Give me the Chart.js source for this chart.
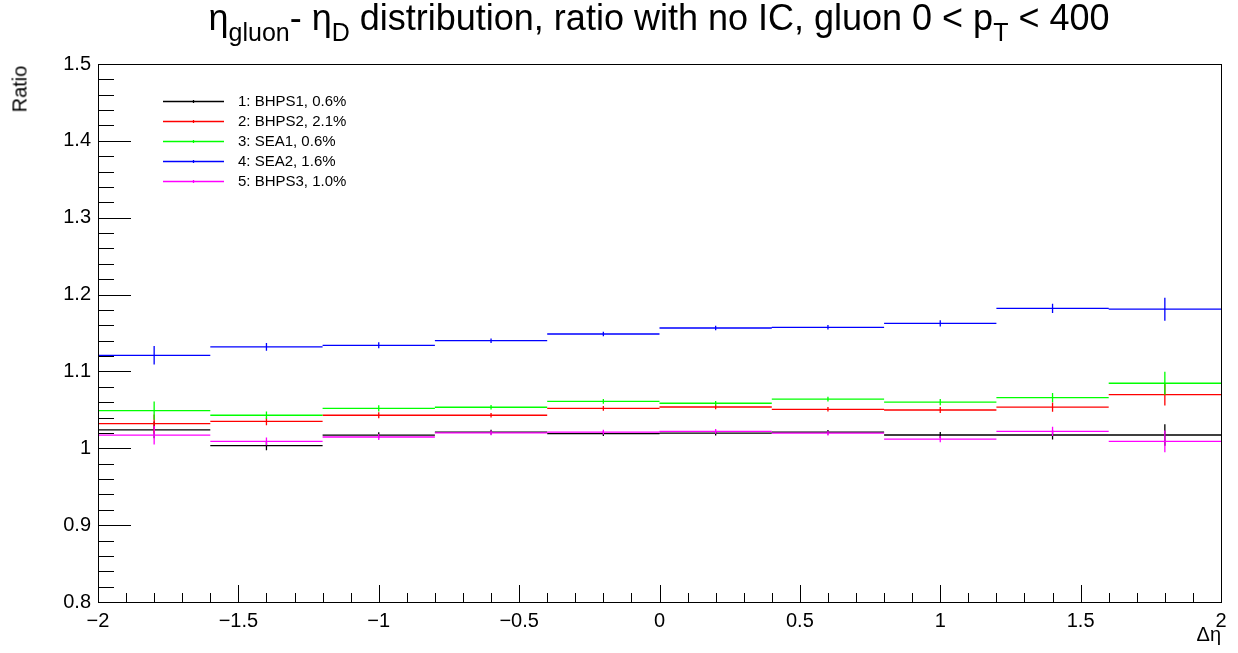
<!DOCTYPE html>
<html>
<head>
<meta charset="utf-8">
<script src="https://cdn.jsdelivr.net/npm/chart.js@4.4.0/dist/chart.umd.min.js"></script>
<style>
  html, body { margin: 0; padding: 0; background: #fff; }
  #wrap { position: relative; width: 1238px; height: 653px; font-family: "Liberation Sans", Arial, sans-serif; color: #000; }
  canvas { position: absolute; left: 0; top: 0; }
  #title { position: absolute; left: 659px; top: -3px; transform: translateX(-50%); font-size: 36px; white-space: nowrap; }
  #title sub { font-size: 25px; vertical-align: -0.45em; }
  #ylab { position: absolute; left: 20px; top: 89px; transform: translate(-50%, -50%) rotate(-90deg); font-size: 20px; white-space: nowrap; }
  #xlab { position: absolute; right: 17px; top: 623px; font-size: 20px; }
</style>
</head>
<body>
<div id="wrap">
  <canvas id="chart" width="1238" height="653"></canvas>
  <div id="title">η<sub>gluon</sub>- η<sub>D</sub> distribution, ratio with no IC, gluon 0 &lt; p<sub>T</sub> &lt; 400</div>
  <div id="ylab">Ratio</div>
  <div id="xlab">Δη</div>
</div>
<script>
// --- Data ---
const binEdges = [-2, -1.6, -1.2, -0.8, -0.4, 0, 0.4, 0.8, 1.2, 1.6, 2];

const seriesNames = ['1: BHPS1, 0.6%', '2: BHPS2, 2.1%', '3: SEA1, 0.6%', '4: SEA2, 1.6%', '5: BHPS3, 1.0%'];
const seriesColors = ['#000000', '#ff0000', '#00ff00', '#0000ff', '#ff00ff'];

const bhps1 = [1.024, 1.0035, 1.017, 1.021, 1.019, 1.0197, 1.0209, 1.0173, 1.0173, 1.0173];
const bhps2 = [1.032, 1.035, 1.043, 1.043, 1.052, 1.0537, 1.0507, 1.0498, 1.0536, 1.0698];
const sea1  = [1.049, 1.043, 1.052, 1.0534, 1.0611, 1.0586, 1.064, 1.060, 1.066, 1.0846];
const sea2  = [1.121, 1.132, 1.134, 1.140, 1.1487, 1.1565, 1.1574, 1.1626, 1.182, 1.181];
const bhps3 = [1.017, 1.0091, 1.0147, 1.020, 1.021, 1.022, 1.0196, 1.012, 1.0221, 1.009];

const bhps1Err = [0.011, 0.006, 0.004, 0.003, 0.003, 0.003, 0.003, 0.004, 0.006, 0.014];
const bhps2Err = [0.012, 0.005, 0.004, 0.003, 0.003, 0.003, 0.003, 0.004, 0.006, 0.014];
const sea1Err  = [0.012, 0.005, 0.004, 0.003, 0.003, 0.003, 0.003, 0.004, 0.006, 0.015];
const sea2Err  = [0.012, 0.005, 0.004, 0.003, 0.003, 0.003, 0.003, 0.004, 0.006, 0.015];
const bhps3Err = [0.012, 0.005, 0.004, 0.003, 0.003, 0.003, 0.003, 0.004, 0.006, 0.014];

const xMajorTicks = [-2, -1.5, -1, -0.5, 0, 0.5, 1, 1.5, 2];
const yMajorTicks = [0.8, 0.9, 1.0, 1.1, 1.2, 1.3, 1.4, 1.5];

const allValues = [bhps1, bhps2, sea1, sea2, bhps3];
const allErrors = [bhps1Err, bhps2Err, sea1Err, sea2Err, bhps3Err];

// --- Build datasets: horizontal bin segments + vertical error bars ---
function segments(vals) {
  const pts = [];
  vals.forEach((v, i) => {
    pts.push({ x: binEdges[i], y: v }, { x: binEdges[i + 1], y: v }, { x: binEdges[i + 1], y: null });
  });
  return pts;
}
function errorBars(vals, errs) {
  const pts = [];
  vals.forEach((v, i) => {
    const c = (binEdges[i] + binEdges[i + 1]) / 2;
    pts.push({ x: c, y: v - errs[i] }, { x: c, y: v + errs[i] }, { x: c, y: null });
  });
  return pts;
}

const datasets = [];
allValues.forEach((vals, i) => {
  const common = {
    borderColor: seriesColors[i],
    borderWidth: 1.3,
    pointRadius: 0,
    tension: 0,
    spanGaps: false,
    fill: false,
    order: 10 - i
  };
  datasets.push(Object.assign({ label: seriesNames[i], data: segments(vals) }, common));
  datasets.push(Object.assign({ label: seriesNames[i] + ' err', data: errorBars(vals, allErrors[i]) }, common));
});

// --- Frame, ROOT style inward ticks, legend box ---
const rootFrame = {
  id: 'rootFrame',
  afterDraw(chart) {
    const { ctx, chartArea: a, scales } = chart;
    const xs = scales.x, ys = scales.y;
    ctx.save();
    ctx.strokeStyle = '#000';
    ctx.lineWidth = 1;
    ctx.strokeRect(Math.round(a.left) + 0.5, Math.round(a.top) + 0.5, Math.round(a.right - a.left), Math.round(a.bottom - a.top));
    ctx.beginPath();
    // y ticks: major every 0.1, minor every 0.02
    for (let k = 0; k <= 35; k++) {
      const v = 0.8 + k * 0.02;
      const py = Math.round(ys.getPixelForValue(v)) + 0.5;
      const len = (k % 5 === 0) ? 33 : 16;
      ctx.moveTo(a.left, py);
      ctx.lineTo(a.left + len, py);
    }
    // x ticks: major every 0.5, minor every 0.1
    for (let k = 0; k <= 40; k++) {
      const v = -2 + k * 0.1;
      const px = Math.round(xs.getPixelForValue(v)) + 0.5;
      const len = (k % 5 === 0) ? 17 : 9;
      ctx.moveTo(px, a.bottom);
      ctx.lineTo(px, a.bottom - len);
    }
    ctx.stroke();

    // legend
    ctx.font = '15px "Liberation Sans", Arial, sans-serif';
    ctx.textBaseline = 'middle';
    ctx.textAlign = 'left';
    seriesNames.forEach((n, i) => {
      const y = 101 + i * 20;
      ctx.strokeStyle = seriesColors[i];
      ctx.lineWidth = 1.3;
      ctx.beginPath();
      ctx.moveTo(163, y + 0.5);
      ctx.lineTo(224, y + 0.5);
      ctx.moveTo(193.5, y - 1);
      ctx.lineTo(193.5, y + 2);
      ctx.stroke();
      ctx.fillStyle = '#000';
      ctx.fillText(n, 238, y + 1);
    });
    ctx.restore();
  }
};

const tickFont = { family: '"Liberation Sans", Arial, sans-serif', size: 20 };

new Chart(document.getElementById('chart').getContext('2d'), {
  type: 'line',
  data: { datasets: datasets },
  options: {
    responsive: false,
    animation: false,
    layout: { padding: { top: 64, right: 17, left: 0, bottom: 0 } },
    plugins: { legend: { display: false }, tooltip: { enabled: false }, title: { display: false } },
    scales: {
      x: {
        type: 'linear',
        min: -2, max: 2,
        grid: { display: false, drawTicks: false },
        border: { display: false },
        afterBuildTicks: (s) => { s.ticks = xMajorTicks.map(v => ({ value: v })); },
        afterFit: (s) => { s.height = 51; },
        ticks: {
          color: '#000', font: tickFont, padding: 7, maxRotation: 0, autoSkip: false,
          callback: (v) => v < 0 ? '\u2212' + Math.abs(v) : String(v)
        }
      },
      y: {
        type: 'linear',
        min: 0.8, max: 1.5,
        grid: { display: false, drawTicks: false },
        border: { display: false },
        afterBuildTicks: (s) => { s.ticks = yMajorTicks.map(v => ({ value: v })); },
        afterFit: (s) => { s.width = 98; },
        ticks: {
          color: '#000', font: tickFont, padding: 7, autoSkip: false,
          callback: (v) => String(Math.round(v * 10) / 10)
        }
      }
    }
  },
  plugins: [rootFrame]
});
</script>
</body>
</html>
